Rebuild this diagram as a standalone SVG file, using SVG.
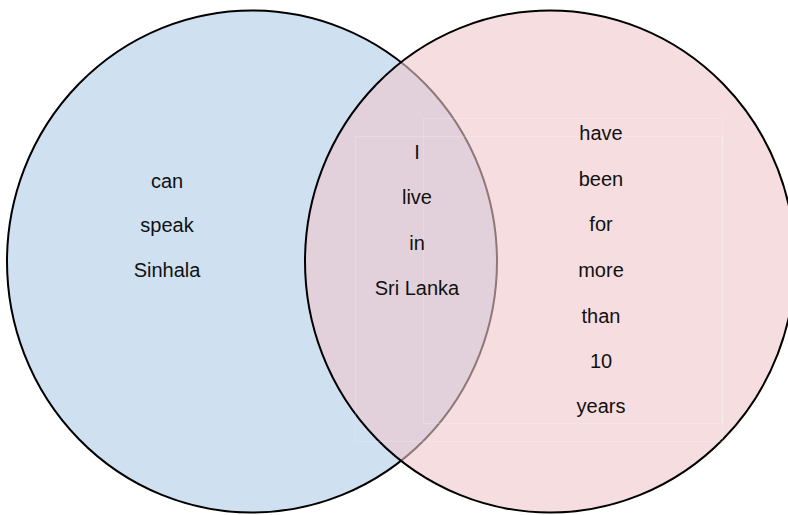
<svg xmlns="http://www.w3.org/2000/svg" width="788" height="515" viewBox="0 0 788 515">
<style>
.set{stroke:#000;stroke-width:2}
.lbl{font-family:"Liberation Sans",Arial,sans-serif;font-size:20px;fill:#111;text-anchor:middle}
.ghost{fill:none;stroke:#fff;stroke-width:1;stroke-opacity:0.18}
</style>
<rect width="788" height="515" fill="#fff"/>
<g id="set-sinhala">
<ellipse class="set" cx="252" cy="261.5" rx="245" ry="251" fill="#cfe0f1"/>
</g>
<g id="set-ten-years">
<ellipse class="set" cx="550" cy="261.5" rx="245" ry="251" fill="#eec6cb" fill-opacity="0.6"/>
<rect class="ghost" x="423.5" y="118.5" width="299" height="305"/>
<rect class="ghost" x="355.5" y="136.5" width="367" height="305"/>
</g>
<g id="connectors"></g>
<g id="label-left">
<text class="lbl" x="167" y="188">can</text>
<text class="lbl" x="167" y="232">speak</text>
<text class="lbl" x="167" y="277">Sinhala</text>
</g>
<g id="label-middle">
<text class="lbl" x="417" y="159">I</text>
<text class="lbl" x="417" y="204">live</text>
<text class="lbl" x="417" y="250">in</text>
<text class="lbl" x="417" y="295">Sri Lanka</text>
</g>
<g id="label-right">
<text class="lbl" x="601" y="140">have</text>
<text class="lbl" x="601" y="186">been</text>
<text class="lbl" x="601" y="231">for</text>
<text class="lbl" x="601" y="277">more</text>
<text class="lbl" x="601" y="323">than</text>
<text class="lbl" x="601" y="368">10</text>
<text class="lbl" x="601" y="413">years</text>
</g>
</svg>
